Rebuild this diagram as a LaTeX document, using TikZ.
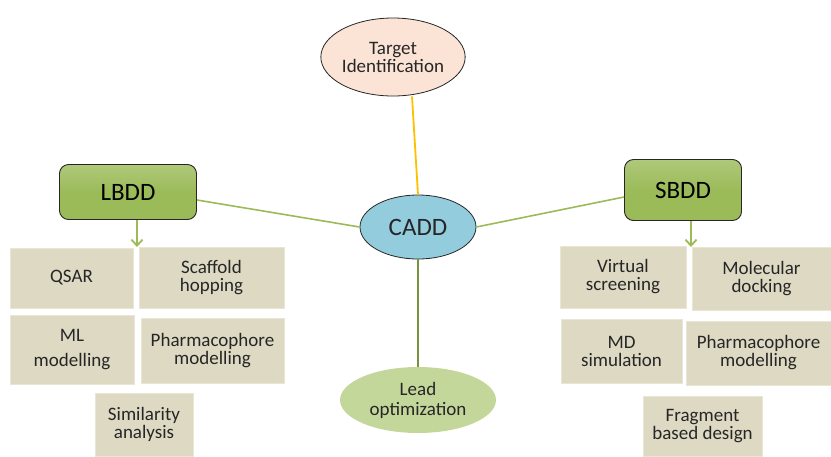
\documentclass[tikz,border=0pt]{standalone}
\usepackage{fontspec}
\setmainfont{Carlito}
\usetikzlibrary{shapes.geometric,arrows.meta}
\definecolor{peach}{HTML}{FBE4D5}
\definecolor{skyblue}{HTML}{93CDDD}
\definecolor{leafgreen}{HTML}{9BBB59}
\definecolor{palegreen}{HTML}{C4D79B}
\definecolor{olivegreen}{HTML}{77933C}
\definecolor{sand}{HTML}{DDD9C3}
\definecolor{sandedge}{HTML}{E9E6D6}
\definecolor{amber}{HTML}{FFC000}
\definecolor{ink}{HTML}{262626}
\tikzset{
  oval/.style={ellipse, draw=ink, line width=0.8pt, inner sep=0pt, align=center,
    text=ink, font=\fontsize{19}{18}\selectfont},
  groupbox/.style={rectangle, rounded corners=9pt, draw=ink, line width=0.9pt,
    top color=leafgreen!80!white, bottom color=leafgreen, middle color=leafgreen,
    text=black, font=\fontsize{25}{28}\selectfont, inner sep=0pt},
  itembox/.style={rectangle, fill=sand, draw=sandedge, line width=1pt, align=center,
    text=ink, font=\fontsize{19}{18}\selectfont, inner sep=0pt},
  link/.style={line width=1.6pt, draw=leafgreen},
  drop/.style={line width=1.8pt, draw=leafgreen, -{Straight Barb[length=6pt,width=11pt,line width=1.8pt]}}
}
\begin{document}
\begin{tikzpicture}[x=1pt,y=-1pt]
\useasboundingbox (0,0) rectangle (831,456);

% central hub and the two stages above and below it
\node[oval, fill=peach, minimum width=144pt, minimum height=78pt] (target) at (393,57) {Target\\Identification};
\node[oval, fill=skyblue, minimum width=116pt, minimum height=64pt, font=\fontsize{25}{28}\selectfont] (cadd) at (418,227) {CADD};
\node[oval, fill=palegreen, draw=none, minimum width=156pt, minimum height=66pt,
      font=\fontsize{19}{20}\selectfont] (lead) at (418,400) {Lead\\optimization};

% approach boxes
\node[groupbox, minimum width=137pt, minimum height=55pt] (lbdd) at (128,192) {LBDD};
\node[groupbox, minimum width=117pt, minimum height=61pt] (sbdd) at (683,190) {SBDD};

% connectors to the hub
\draw[line width=1.8pt, amber] (target.south) ++(19pt,0) coordinate (ts) -- (cadd.north);
\draw[link] (lbdd.east) ++(0,8) -- (cadd.west);
\draw[link] (sbdd.west) ++(0,7) -- (cadd.east);
\draw[line width=1.8pt, olivegreen] (cadd.south) -- (lead.north);

% ligand-based methods
\node[itembox, minimum width=123pt, minimum height=60pt] (qsar) at (71.5,278) {QSAR};
\node[itembox, minimum width=145pt, minimum height=61pt] (scaf) at (211.5,277.5) {Scaffold\\hopping};
\node[itembox, minimum width=124pt, minimum height=69pt, font=\fontsize{19}{25}\selectfont] (ml) at (72,349.5) {ML\\modelling};
\node[itembox, minimum width=143pt, minimum height=65pt] (pharmL) at (212.5,350.5) {Pharmacophore\\modelling};
\node[itembox, minimum width=98pt, minimum height=63pt] (sim) at (144,424.5) {Similarity\\analysis};

% structure-based methods
\node[itembox, minimum width=126pt, minimum height=62pt] (vs) at (623,277) {Virtual\\screening};
\node[itembox, minimum width=139pt, minimum height=63pt] (dock) at (761.5,278.5) {Molecular\\docking};
\node[itembox, minimum width=121pt, minimum height=64pt] (md) at (621.5,351) {MD\\simulation};
\node[itembox, minimum width=145pt, minimum height=64pt] (pharmS) at (758.5,353) {Pharmacophore\\modelling};
\node[itembox, minimum width=119pt, minimum height=60pt] (frag) at (702.5,426) {Fragment\\based design};

% arrows from each approach down to its methods
\coordinate (lbddtip) at (137,247);
\coordinate (sbddtip) at (691,247);
\draw[drop] (lbdd.south -| lbddtip) -- (lbddtip);
\draw[drop] (sbdd.south -| sbddtip) -- (sbddtip);
\end{tikzpicture}
\end{document}
